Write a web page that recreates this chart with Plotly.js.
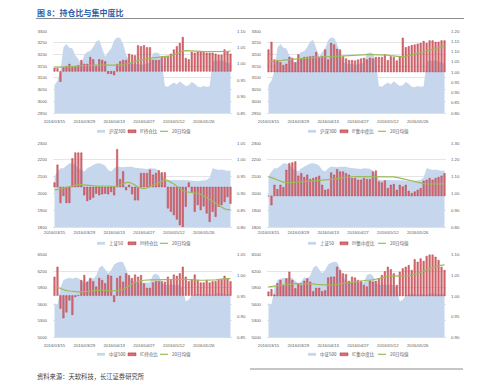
<!DOCTYPE html>
<html><head><meta charset="utf-8">
<script src="https://cdn.plot.ly/plotly-3.0.1.min.js"></script>
<style>html,body{margin:0;padding:0;background:#fff}#chart{width:500px;height:388px}</style>
</head><body><div id="chart"></div>
<script>
const dates = ['2016/03/15','2016/03/16','2016/03/17','2016/03/18','2016/03/21','2016/03/22','2016/03/23','2016/03/24','2016/03/25','2016/03/28',
'2016/03/29','2016/03/30','2016/03/31','2016/04/01','2016/04/05','2016/04/06','2016/04/07','2016/04/08','2016/04/11','2016/04/12',
'2016/04/13','2016/04/14','2016/04/15','2016/04/18','2016/04/19','2016/04/20','2016/04/21','2016/04/22','2016/04/25','2016/04/26',
'2016/04/27','2016/04/28','2016/04/29','2016/05/03','2016/05/04','2016/05/05','2016/05/06','2016/05/09','2016/05/10','2016/05/11',
'2016/05/12','2016/05/13','2016/05/16','2016/05/17','2016/05/18','2016/05/19','2016/05/20','2016/05/23','2016/05/24','2016/05/25',
'2016/05/26','2016/05/27','2016/05/30','2016/05/31','2016/06/01','2016/06/02','2016/06/03','2016/06/06','2016/06/07','2016/06/08'];
const tickDates = ['2016/03/15','2016/03/29','2016/04/13','2016/04/27','2016/05/12','2016/05/26'];

const hs300 = [3070,3088,3130,3230,3245,3228,3225,3195,3180,3155,
 3200,3210,3215,3232,3255,3262,3225,3190,3210,3225,
 3260,3272,3270,3245,3200,3170,3160,3158,3160,3155,
 3158,3162,3165,3205,3208,3205,3170,3065,3062,3072,
 3080,3072,3085,3075,3065,3068,3082,3075,3062,3060,
 3065,3062,3064,3168,3175,3172,3175,3170,3165,3160];
const sz50 = [2100,2130,2150,2150,2165,2180,2178,2170,2150,2140,
 2130,2150,2160,2170,2178,2180,2175,2165,2140,2130,
 2150,2160,2158,2155,2158,2160,2158,2152,2150,2148,
 2148,2145,2150,2150,2146,2135,2110,2082,2080,2080,
 2082,2080,2078,2080,2082,2078,2075,2072,2072,2075,
 2076,2080,2095,2150,2145,2140,2142,2138,2135,2136];
const zz500 = [5620,5590,5900,6040,6060,6080,6060,6085,6070,6020,
 5980,6010,6090,6060,6120,6260,6300,6230,6160,6220,
 6320,6350,6370,6360,6240,6080,6030,6000,5990,6000,
 5990,5995,6000,6130,6150,6120,5980,5960,5950,5960,
 5950,5955,5945,5900,5650,5680,5760,5780,5790,5780,
 5770,5790,5780,5770,5790,5800,5790,5780,5790,5780];

const ifHold = [0.987,0.986,0.946,0.989,0.992,0.999,0.989,0.992,0.995,1.011,
 0.999,0.999,1.020,1.013,0.992,1.013,1.011,1.007,0.970,0.970,
 0.966,0.999,1.007,1.011,1.011,1.030,1.027,1.025,1.056,1.053,
 1.056,1.050,1.050,1.011,1.011,1.011,1.023,1.023,1.023,1.030,
 1.043,1.053,1.063,1.081,1.017,1.013,1.036,1.033,1.036,1.036,
 1.035,1.033,1.033,1.033,1.030,1.027,1.027,1.043,1.036,1.030];
const ifHoldMA = [0.990,0.991,0.990,0.990,0.991,0.992,0.992,0.993,0.993,0.994,
 0.994,0.995,0.995,0.996,0.996,0.996,0.996,0.995,0.995,0.994,
 0.994,0.995,0.996,0.997,0.999,1.001,1.003,1.006,1.009,1.012,
 1.014,1.016,1.017,1.018,1.019,1.020,1.020,1.021,1.022,1.024,
 1.027,1.031,1.035,1.039,1.040,1.040,1.039,1.039,1.038,1.038,
 1.037,1.037,1.036,1.036,1.036,1.036,1.037,1.038,1.038,1.039];
const ifConc = [1.109,1.146,1.060,1.055,1.047,1.033,1.039,1.072,1.068,1.047,
 1.085,1.063,1.072,1.073,1.076,1.076,1.096,1.072,1.076,1.109,
 1.060,1.141,1.133,1.112,1.109,1.076,1.065,1.057,1.057,1.055,
 1.060,1.065,1.068,1.060,1.068,1.065,1.072,1.072,1.072,1.085,
 1.057,1.076,1.072,1.055,1.076,1.166,1.120,1.125,1.130,1.133,
 1.137,1.141,1.150,1.141,1.153,1.153,1.146,1.146,1.153,1.153];
const ifConcMA = [1.049,1.050,1.052,1.054,1.056,1.058,1.060,1.061,1.062,1.063,
 1.064,1.066,1.067,1.068,1.069,1.070,1.071,1.072,1.073,1.074,
 1.075,1.076,1.077,1.078,1.079,1.080,1.081,1.082,1.083,1.084,
 1.084,1.085,1.085,1.085,1.085,1.085,1.085,1.085,1.084,1.083,
 1.082,1.080,1.078,1.076,1.074,1.074,1.076,1.079,1.083,1.087,
 1.091,1.095,1.099,1.103,1.107,1.111,1.115,1.118,1.122,1.125];
const ihHold = [0.932,0.985,0.872,0.893,0.872,0.872,1.004,1.021,1.021,1.021,
 0.895,0.878,0.882,0.888,0.900,0.895,0.898,0.900,0.898,0.905,
 0.895,1.031,0.942,0.965,0.910,0.925,0.898,0.880,0.880,0.960,
 0.960,0.960,0.970,0.955,0.960,0.968,0.962,0.962,0.856,0.846,
 0.836,0.823,0.806,0.799,0.861,0.932,0.905,0.846,0.866,0.851,
 0.862,0.841,0.816,0.846,0.831,0.861,0.866,0.875,0.890,0.870];
const ihHoldMA = [0.910,0.912,0.914,0.916,0.918,0.920,0.923,0.925,0.926,0.926,
 0.925,0.924,0.923,0.922,0.921,0.921,0.922,0.923,0.922,0.921,
 0.921,0.922,0.925,0.929,0.932,0.933,0.930,0.925,0.918,0.915,
 0.914,0.916,0.920,0.924,0.928,0.932,0.937,0.940,0.938,0.934,
 0.928,0.921,0.914,0.908,0.905,0.904,0.903,0.902,0.900,0.897,
 0.893,0.888,0.882,0.876,0.870,0.864,0.858,0.854,0.852,0.852];
const ihConc = [0.985,0.931,1.050,1.024,1.050,1.036,1.139,1.179,1.183,1.189,
 1.104,1.119,1.096,1.110,1.084,1.090,1.096,1.104,1.050,1.020,
 1.024,1.123,1.110,1.143,1.129,1.129,1.119,1.110,1.090,1.090,
 1.080,1.080,1.090,1.084,1.084,1.129,1.135,1.070,1.064,1.076,
 1.030,1.050,1.054,1.020,1.050,1.040,1.050,1.014,1.000,1.010,
 1.020,1.030,1.074,1.080,1.090,1.080,1.090,1.096,1.104,1.119];
const ihConcMA = [1.100,1.095,1.088,1.080,1.073,1.067,1.064,1.063,1.064,1.066,
 1.068,1.070,1.072,1.073,1.074,1.075,1.076,1.077,1.078,1.079,
 1.080,1.082,1.085,1.088,1.091,1.094,1.096,1.098,1.099,1.100,
 1.100,1.100,1.099,1.099,1.099,1.100,1.100,1.100,1.100,1.101,
 1.101,1.100,1.098,1.095,1.091,1.087,1.082,1.077,1.072,1.067,
 1.063,1.060,1.058,1.057,1.056,1.056,1.056,1.056,1.057,1.057];
const icHold = [0.996,1.020,0.920,0.897,0.911,0.940,0.905,0.948,0.952,0.988,
 1.000,0.984,0.992,0.985,0.972,0.993,0.988,0.980,1.000,0.998,
 0.936,0.993,0.998,0.984,1.004,1.000,0.993,1.001,0.996,1.000,
 0.980,0.969,0.969,0.982,0.985,0.985,0.985,0.984,0.996,0.988,
 1.001,0.998,1.004,1.020,0.996,0.985,0.990,1.001,0.988,0.982,
 0.982,0.988,0.982,0.985,0.985,0.988,0.990,0.998,0.992,0.985];
const icHoldMA = [0.970,0.971,0.968,0.965,0.963,0.962,0.961,0.960,0.960,0.960,
 0.960,0.961,0.962,0.963,0.963,0.964,0.964,0.964,0.963,0.962,
 0.962,0.963,0.964,0.966,0.970,0.975,0.979,0.982,0.985,0.987,
 0.988,0.989,0.989,0.989,0.989,0.989,0.989,0.989,0.989,0.990,
 0.990,0.990,0.990,0.991,0.990,0.989,0.989,0.989,0.988,0.988,
 0.988,0.988,0.988,0.988,0.989,0.990,0.991,0.992,0.992,0.992];
const icConc = [1.010,1.016,1.003,1.030,1.038,1.026,1.042,1.058,1.038,1.018,
 1.030,1.026,1.036,1.042,1.034,1.011,1.019,1.019,1.011,1.013,
 1.044,1.046,1.046,1.070,1.062,1.054,1.052,1.036,1.046,1.044,
 1.038,1.036,1.026,1.022,1.036,1.034,1.036,1.042,1.050,1.059,
 1.070,1.064,1.054,1.026,1.058,1.066,1.070,1.074,1.062,1.088,
 1.082,1.090,1.084,1.096,1.100,1.100,1.094,1.086,1.070,1.062];
const icConcMA = [1.022,1.023,1.024,1.025,1.026,1.027,1.028,1.029,1.030,1.030,
 1.030,1.030,1.030,1.030,1.029,1.029,1.028,1.028,1.027,1.027,
 1.026,1.026,1.027,1.028,1.029,1.030,1.032,1.033,1.034,1.035,
 1.036,1.037,1.037,1.038,1.038,1.039,1.040,1.042,1.044,1.046,
 1.047,1.048,1.048,1.048,1.048,1.048,1.048,1.049,1.050,1.052,
 1.054,1.057,1.060,1.063,1.066,1.069,1.071,1.073,1.074,1.075];

const maName = '20日均值';
const titleText = '图 8：持仓比与集中度比';
const sourceText = '资料来源：天软科技，长江证券研究所';

const panels = [
 {idx:hs300, idxName:'沪深300', r:ifHold, rName:'IF持仓比', ma:ifHoldMA, L:[2950,3300,50], R:[0.85,1.10,0.05], base:0.977, col:0,row:0},
 {idx:hs300, idxName:'沪深300', r:ifConc, rName:'IF集中度比', ma:ifConcMA, L:[2950,3300,50], R:[0.80,1.20,0.05], base:1.00, col:1,row:0},
 {idx:sz50, idxName:'上证50', r:ihHold, rName:'IH持仓比', ma:ihHoldMA, L:[1800,2300,100], R:[0.80,1.05,0.05], base:0.919, col:0,row:1},
 {idx:sz50, idxName:'上证50', r:ihConc, rName:'IH集中度比', ma:ihConcMA, L:[1800,2300,100], R:[0.80,1.30,0.10], base:0.985, col:1,row:1},
 {idx:zz500, idxName:'中证500', r:icHold, rName:'IC持仓比', ma:icHoldMA, L:[5000,6500,300], R:[0.85,1.05,0.05], base:0.951, col:0,row:2},
 {idx:zz500, idxName:'中证500', r:icConc, rName:'IC集中度比', ma:icConcMA, L:[5000,6500,300], R:[0.90,1.10,0.05], base:1.00, col:1,row:2}
];

const W=500,H=388;
const px = x => x/W, py = y => 1 - y/H;
const colX = [[53,232],[267,446]];
const rowY = [[31,113],[143,227],[254.5,337.5]];
const legY = [131.3,243.3,354.3];
const legX = [[97,128,160],[308,340,378]];
const dateStand = [4,1,4];

const areaColor = 'rgb(198,214,236)';
const barColor = 'rgb(214,112,118)';
const barLine = 'rgb(178,40,52)';
const maColor = 'rgb(155,187,89)';
const tickFont = {family:'Liberation Sans, Arial, sans-serif', size:4.3, color:'#595959'};
const cjkFam = 'Noto Sans CJK SC, sans-serif';

const data = [];
const layout = {width:W,height:H,margin:{l:0,r:0,t:0,b:0},paper_bgcolor:'#fff',plot_bgcolor:'rgba(0,0,0,0)',
  showlegend:false,bargap:0.5,shapes:[],annotations:[]};

panels.forEach((p,k)=>{
  const xs = k===0?'':String(k+1);
  const yl = 2*k+1, yr = 2*k+2;
  const ylS = yl===1?'':String(yl), yrS = String(yr);
  const [x0,x1] = colX[p.col], [yt,yb] = rowY[p.row];
  layout['xaxis'+xs] = {domain:[px(x0),px(x1)], anchor:'y'+ylS, type:'category', range:[-0.5,dates.length-0.5],
    tickmode:'array', tickvals:tickDates, ticktext:tickDates, showgrid:false, ticks:'', tickfont:tickFont,
    showline:true, linecolor:'#d9d9d9', linewidth:0.8, zeroline:false, ticklabelstandoff:dateStand[p.row], fixedrange:true};
  layout['yaxis'+ylS] = {domain:[py(yb),py(yt)], anchor:'x'+xs, range:[p.L[0],p.L[1]], dtick:p.L[2], tick0:p.L[0],
    tickformat:'d', showgrid:true, gridcolor:'#dedede', gridwidth:0.8, ticks:'', tickfont:tickFont, zeroline:false,
    showline:false, ticklabelstandoff:5};
  layout['yaxis'+yrS] = {overlaying:'y'+ylS, side:'right', anchor:'x'+xs, range:[p.R[0],p.R[1]], dtick:p.R[2], tick0:p.R[0],
    tickformat:'.2f', showgrid:false, ticks:'', tickfont:tickFont, zeroline:false, showline:false, ticklabelstandoff:4};
  data.push({type:'scatter', mode:'lines', x:dates, y:p.idx, name:p.idxName, fill:'tozeroy', fillcolor:areaColor,
    line:{width:0,color:areaColor}, xaxis:'x'+xs, yaxis:'y'+ylS, hoverinfo:'skip'});
  data.push({type:'bar', x:dates, y:p.r.map(v=>v-p.base), base:p.base, name:p.rName,
    marker:{color:barColor, line:{color:barLine,width:0.4}}, xaxis:'x'+xs, yaxis:'y'+yrS});
  data.push({type:'scatter', mode:'lines', x:dates, y:p.ma, name:maName, line:{color:maColor,width:1.2},
    xaxis:'x'+xs, yaxis:'y'+yrS});
  const ly = legY[p.row], lx = legX[p.col];
  layout.shapes.push({type:'rect',xref:'paper',yref:'paper',x0:px(lx[0]),x1:px(lx[0]+8),y0:py(ly+1.4),y1:py(ly-1.4),fillcolor:areaColor,line:{width:0}});
  layout.shapes.push({type:'rect',xref:'paper',yref:'paper',x0:px(lx[1]),x1:px(lx[1]+8),y0:py(ly+1.4),y1:py(ly-1.4),fillcolor:barColor,line:{width:0.5,color:barLine}});
  layout.shapes.push({type:'line',xref:'paper',yref:'paper',x0:px(lx[2]),x1:px(lx[2]+8),y0:py(ly),y1:py(ly),line:{width:1.2,color:maColor}});
  [p.idxName,p.rName,maName].forEach((t,j)=>{
    layout.annotations.push({xref:'paper',yref:'paper',x:px(lx[j]+9.5),y:py(ly),xanchor:'left',yanchor:'middle',
      text:t,showarrow:false,font:{family:cjkFam,size:4.5,color:'#595959'}});
  });
});

layout.annotations.push({xref:'paper',yref:'paper',x:px(35),y:py(12.3),xanchor:'left',yanchor:'middle',text:titleText,
  showarrow:false,font:{family:cjkFam,size:8,color:'#2b5ea8',weight:'bold'}});
layout.shapes.push({type:'line',xref:'paper',yref:'paper',x0:px(36),x1:px(464),y0:py(18.5),y1:py(18.5),line:{width:1,color:'#8c8c8c'}});
layout.annotations.push({xref:'paper',yref:'paper',x:px(35),y:py(376.5),xanchor:'left',yanchor:'middle',text:sourceText,
  showarrow:false,font:{family:cjkFam,size:6.3,color:'#404040'}});
layout.shapes.push({type:'line',xref:'paper',yref:'paper',x0:px(250),x1:px(463),y0:py(369),y1:py(369),line:{width:1,color:'#8c8c8c'}});

Plotly.newPlot('chart', data, layout, {staticPlot:true, displayModeBar:false});
</script>
</body></html>
